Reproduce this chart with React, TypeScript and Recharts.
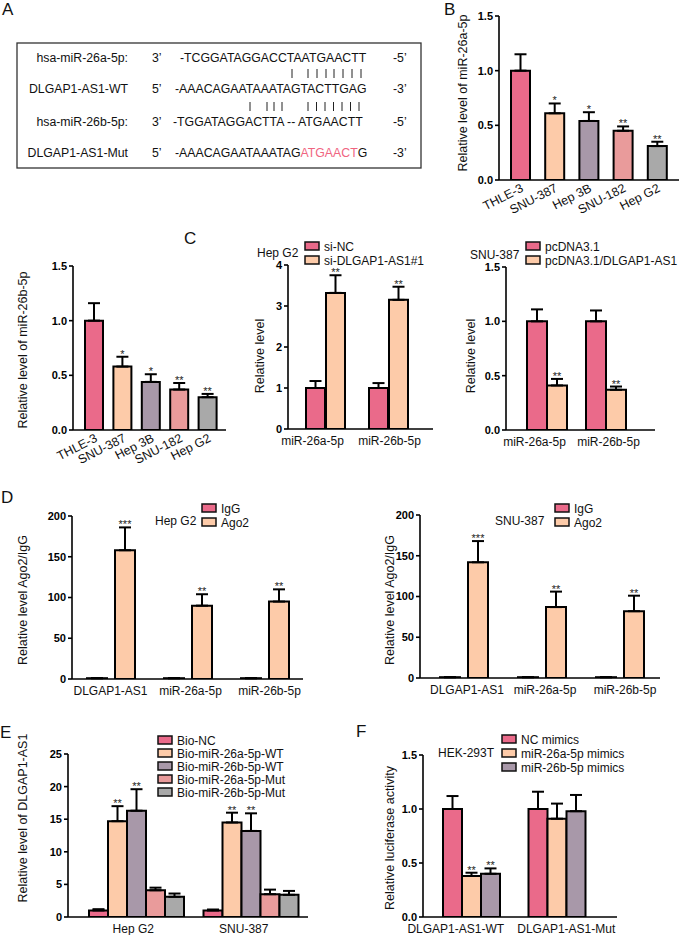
import React from 'react';
import { BarChart, Bar, XAxis, YAxis, ErrorBar, LabelList, Cell } from 'recharts';

const FONT = '"Liberation Sans", Arial, Helvetica, sans-serif';
const PINK = '#EA6A8A';
const PEACH = '#FDCBA9';
const MAUVE = '#A898A9';
const SALMON = '#E99B9B';
const GRAY = '#A9A9A9';

// ---------- Panel B: miR-26a-5p in cell lines ----------
const cellLines = ['THLE-3', 'SNU-387', 'Hep 3B', 'SNU-182', 'Hep G2'];
const b26aValues = [1.0, 0.61, 0.54, 0.45, 0.31];
const b26aErrors = [0.15, 0.09, 0.08, 0.04, 0.04];
const b26aStars = ['', '*', '*', '**', '**'];

// ---------- miR-26b-5p in cell lines ----------
const b26bValues = [1.0, 0.58, 0.44, 0.37, 0.3];
const b26bErrors = [0.16, 0.09, 0.07, 0.06, 0.03];
const b26bStars = ['', '*', '*', '**', '**'];

// ---------- Panel C ----------
const mirCats = ['miR-26a-5p', 'miR-26b-5p'];
const siNCValues = [1.0, 1.0];
const siNCErrors = [0.17, 0.12];
const siDLValues = [3.32, 3.15];
const siDLErrors = [0.43, 0.32];
const siDLStars = ['**', '**'];
const pcValues = [1.0, 1.0];
const pcErrors = [0.11, 0.1];
const pcDLValues = [0.41, 0.37];
const pcDLErrors = [0.06, 0.03];
const pcDLStars = ['**', '**'];

// ---------- Panel D ----------
const ripCats = ['DLGAP1-AS1', 'miR-26a-5p', 'miR-26b-5p'];
const igGValues = [1, 1, 1];
const zeroErr3 = [0, 0, 0];
const hepAgoValues = [158, 90, 95];
const hepAgoErrors = [28, 14, 15];
const snuAgoValues = [142, 87, 82];
const snuAgoErrors = [26, 19, 19];
const agoStars = ['***', '**', '**'];

// ---------- Panel E ----------
const pullCats = ['Hep G2', 'SNU-387'];
const bioNCValues = [1.0, 1.0];
const bioNCErrors = [0.2, 0.15];
const bio26aWTValues = [14.7, 14.5];
const bio26aWTErrors = [2.3, 1.5];
const bio26bWTValues = [16.3, 13.2];
const bio26bWTErrors = [3.3, 2.7];
const bio26aMutValues = [4.1, 3.5];
const bio26aMutErrors = [0.4, 0.7];
const bio26bMutValues = [3.1, 3.4];
const bio26bMutErrors = [0.5, 0.6];
const wtStars = ['**', '**'];

// ---------- Panel F ----------
const lucCats = ['DLGAP1-AS1-WT', 'DLGAP1-AS1-Mut'];
const ncMimValues = [1.0, 1.0];
const ncMimErrors = [0.12, 0.16];
const m26aValues = [0.38, 0.91];
const m26aErrors = [0.03, 0.14];
const m26bValues = [0.4, 0.98];
const m26bErrors = [0.05, 0.15];
const mimStars = ['**', ''];

const none2 = ['', ''];
const none3 = ['', '', ''];

type SeriesDef = {
  name: string;
  values: number[];
  errors: number[];
  stars: string[];
  color: string;
  colors?: string[];
};

function buildRows(cats: string[], series: SeriesDef[]) {
  return cats.map((c, i) => {
    const row: any = { cat: c };
    series.forEach((s, k) => {
      row['v' + k] = s.values[i];
      row['e' + k] = [0, s.errors[i]];
      row['s' + k] = s.stars[i];
    });
    return row;
  });
}

const starContent = (errs: number[], stars: string[], ppu: number) => (props: any) => {
  const { x, y, width, index } = props;
  const s = stars[index];
  if (!s) return null;
  const ty = Number(y) - errs[index] * ppu + 1;
  return (
    <text
      x={Number(x) + Number(width) / 2}
      y={ty}
      textAnchor="middle"
      fontSize={11}
      fill="#222"
      fontFamily={FONT}
    >
      {s}
    </text>
  );
};

const makeHTick = (dx: number[]) => (props: any) => (
  <text
    x={props.x + (dx[props.index] || 0)}
    y={props.y + 16}
    textAnchor="middle"
    fontSize={12}
    fontFamily={FONT}
    fill="#111"
  >
    {props.payload.value}
  </text>
);

const RTick = (props: any) => (
  <g transform={`translate(${props.x + 2},${props.y + 7})`}>
    <text
      textAnchor="end"
      transform="rotate(-27)"
      dy="0.35em"
      fontSize={12.5}
      fontFamily={FONT}
      fill="#111"
    >
      {props.payload.value}
    </text>
  </g>
);

interface PanelProps {
  x0: number;
  x1: number;
  yTop: number;
  yBot: number;
  cats: string[];
  series: SeriesDef[];
  max: number;
  ticks: number[];
  fmt: (v: number) => string;
  barSize: number;
  barGap: number;
  padL: number;
  padR: number;
  rotate?: boolean;
  labelDx?: number[];
}

function Panel(p: PanelProps) {
  const ML = 50;
  const MT = 40;
  const MR = 20;
  const MB = 70;
  const w = p.x1 - p.x0 + ML + MR;
  const h = p.yBot - p.yTop + MT + MB;
  const ppu = (p.yBot - p.yTop) / p.max;
  const data = buildRows(p.cats, p.series);
  const HT = makeHTick(p.labelDx || []);
  return (
    <div style={{ position: 'absolute', left: p.x0 - ML, top: p.yTop - MT, width: w, height: h }}>
      <BarChart
        width={w}
        height={h}
        data={data}
        margin={{ top: MT, right: MR, bottom: 0, left: 0 }}
        barGap={p.barGap}
        barCategoryGap={0}
      >
        <XAxis
          dataKey="cat"
          height={MB}
          axisLine={{ stroke: '#000', strokeWidth: 1.6 }}
          tickLine={false}
          tickSize={0}
          tickMargin={0}
          interval={0}
          padding={{ left: p.padL, right: p.padR }}
          tick={p.rotate ? RTick : HT}
        />
        <YAxis
          width={ML}
          type="number"
          domain={[0, p.max]}
          ticks={p.ticks}
          allowDataOverflow
          interval={0}
          tickFormatter={p.fmt}
          axisLine={{ stroke: '#000', strokeWidth: 1.6 }}
          tickLine={{ stroke: '#000', strokeWidth: 1.6 }}
          tickSize={4}
          tickMargin={2}
          tick={{ fontSize: 11, fontWeight: 700, fill: '#000', fontFamily: FONT }}
        />
        {p.series.map((s, k) => (
          <Bar
            key={k}
            dataKey={'v' + k}
            barSize={p.barSize}
            fill={s.color}
            stroke="#000"
            strokeWidth={2}
            isAnimationActive={false}
          >
            {s.colors ? data.map((_, i) => <Cell key={i} fill={s.colors![i]} />) : null}
            <ErrorBar dataKey={'e' + k} direction="y" width={6} stroke="#000" strokeWidth={2} />
            <LabelList dataKey={'s' + k} content={starContent(s.errors, s.stars, ppu)} />
          </Bar>
        ))}
      </BarChart>
    </div>
  );
}

const f1 = (v: number) => v.toFixed(1);
const f0 = (v: number) => String(v);

function Legend({ x, y0, step, series }: { x: number; y0: number; step: number; series: SeriesDef[] }) {
  return (
    <g>
      {series.map((s, i) => (
        <g key={i}>
          <rect x={x} y={y0 + i * step - 4} width={14} height={8} fill={s.color} stroke="#111" strokeWidth={1.5} />
          <text x={x + 19} y={y0 + i * step + 4.5} fontSize={12} fontFamily={FONT} fill="#111">
            {s.name}
          </text>
        </g>
      ))}
    </g>
  );
}

function YTitle({ x, y, text }: { x: number; y: number; text: string }) {
  return (
    <text
      x={x}
      y={y}
      transform={`rotate(-90 ${x} ${y})`}
      textAnchor="middle"
      dy="0.35em"
      fontSize={12.5}
      fontFamily={FONT}
      fill="#111"
    >
      {text}
    </text>
  );
}

const lineColors = [PINK, PEACH, MAUVE, SALMON, GRAY];

export default function App() {
  const bSeries: SeriesDef[] = [
    { name: 'miR-26a-5p', values: b26aValues, errors: b26aErrors, stars: b26aStars, color: PINK, colors: lineColors },
  ];
  const gSeries: SeriesDef[] = [
    { name: 'miR-26b-5p', values: b26bValues, errors: b26bErrors, stars: b26bStars, color: PINK, colors: lineColors },
  ];
  const cLSeries: SeriesDef[] = [
    { name: 'si-NC', values: siNCValues, errors: siNCErrors, stars: none2, color: PINK },
    { name: 'si-DLGAP1-AS1#1', values: siDLValues, errors: siDLErrors, stars: siDLStars, color: PEACH },
  ];
  const cRSeries: SeriesDef[] = [
    { name: 'pcDNA3.1', values: pcValues, errors: pcErrors, stars: none2, color: PINK },
    { name: 'pcDNA3.1/DLGAP1-AS1', values: pcDLValues, errors: pcDLErrors, stars: pcDLStars, color: PEACH },
  ];
  const dLSeries: SeriesDef[] = [
    { name: 'IgG', values: igGValues, errors: zeroErr3, stars: none3, color: PINK },
    { name: 'Ago2', values: hepAgoValues, errors: hepAgoErrors, stars: agoStars, color: PEACH },
  ];
  const dRSeries: SeriesDef[] = [
    { name: 'IgG', values: igGValues, errors: zeroErr3, stars: none3, color: PINK },
    { name: 'Ago2', values: snuAgoValues, errors: snuAgoErrors, stars: agoStars, color: PEACH },
  ];
  const eSeries: SeriesDef[] = [
    { name: 'Bio-NC', values: bioNCValues, errors: bioNCErrors, stars: none2, color: PINK },
    { name: 'Bio-miR-26a-5p-WT', values: bio26aWTValues, errors: bio26aWTErrors, stars: wtStars, color: PEACH },
    { name: 'Bio-miR-26b-5p-WT', values: bio26bWTValues, errors: bio26bWTErrors, stars: wtStars, color: MAUVE },
    { name: 'Bio-miR-26a-5p-Mut', values: bio26aMutValues, errors: bio26aMutErrors, stars: none2, color: SALMON },
    { name: 'Bio-miR-26b-5p-Mut', values: bio26bMutValues, errors: bio26bMutErrors, stars: none2, color: GRAY },
  ];
  const fSeries: SeriesDef[] = [
    { name: 'NC mimics', values: ncMimValues, errors: ncMimErrors, stars: none2, color: PINK },
    { name: 'miR-26a-5p mimics', values: m26aValues, errors: m26aErrors, stars: mimStars, color: PEACH },
    { name: 'miR-26b-5p mimics', values: m26bValues, errors: m26bErrors, stars: mimStars, color: MAUVE },
  ];

  const seqFont = 12.3;
  const pinkText = '#F0657F';
  const pair1 = [292, 308, 317, 326, 334, 343, 352, 361];
  const pair2 = [250, 267, 274, 282, 308, 316.5, 325, 333.5, 342, 350.5, 359];

  return (
    <div
      style={{
        position: 'absolute',
        left: 0,
        top: 0,
        width: 685,
        height: 935,
        overflow: 'hidden',
        background: '#fff',
        fontFamily: FONT,
      }}
    >
      <Panel x0={499} x1={679} yTop={16} yBot={180} cats={cellLines} series={bSeries} max={1.5}
        ticks={[0, 0.5, 1, 1.5]} fmt={f1} barSize={19} barGap={0} padL={4} padR={5} rotate />
      <Panel x0={73} x1={226} yTop={266} yBot={430} cats={cellLines} series={gSeries} max={1.5}
        ticks={[0, 0.5, 1, 1.5]} fmt={f1} barSize={18} barGap={0} padL={7} padR={4} rotate />
      <Panel x0={288} x1={433} yTop={265} yBot={429} cats={mirCats} series={cLSeries} max={4}
        ticks={[0, 1, 2, 3, 4]} fmt={f0} barSize={19} barGap={1} padL={6} padR={13} labelDx={[-13, 1]} />
      <Panel x0={506} x1={655} yTop={267} yBot={430} cats={mirCats} series={cRSeries} max={1.5}
        ticks={[0, 0.5, 1, 1.5]} fmt={f1} barSize={20} barGap={0} padL={11} padR={20} labelDx={[-12, 3]} />
      <Panel x0={72} x1={303} yTop={516} yBot={679} cats={ripCats} series={dLSeries} max={200}
        ticks={[0, 50, 100, 150, 200]} fmt={f0} barSize={20} barGap={8} padL={0} padR={0} labelDx={[0, 3, 5]} />
      <Panel x0={420} x1={660} yTop={515} yBot={678} cats={ripCats} series={dRSeries} max={200}
        ticks={[0, 50, 100, 150, 200]} fmt={f0} barSize={20} barGap={8} padL={5} padR={1} labelDx={[3, 3, 5]} />
      <Panel x0={68} x1={308} yTop={754} yBot={917} cats={pullCats} series={eSeries} max={25}
        ticks={[0, 5, 10, 15, 20, 25]} fmt={f0} barSize={19} barGap={0} padL={11} padR={0} labelDx={[-3, -7]} />
      <Panel x0={423} x1={617} yTop={755} yBot={917} cats={lucCats} series={fSeries} max={1.5}
        ticks={[0, 0.5, 1, 1.5]} fmt={f1} barSize={19} barGap={0} padL={6} padR={17} labelDx={[-16, 9]} />

      <svg
        width={685}
        height={935}
        style={{ position: 'absolute', left: 0, top: 0, pointerEvents: 'none' }}
      >
        {/* Panel letters */}
        <g fontSize={17} fontFamily={FONT} fill="#111">
          <text x={2} y={15}>A</text>
          <text x={444} y={15}>B</text>
          <text x={184} y={244}>C</text>
          <text x={1} y={503}>D</text>
          <text x={0} y={738}>E</text>
          <text x={356} y={737}>F</text>
        </g>

        {/* Panel A */}
        <rect x={17} y={43} width={404} height={125} fill="none" stroke="#333" strokeWidth={1.3} />
        <g fontSize={seqFont} fontFamily={FONT} fill="#111">
          <text x={128} y={62} textAnchor="end">hsa-miR-26a-5p:</text>
          <text x={152} y={62}>3’</text>
          <text x={180} y={62}>-TCGGATAGGACCTAATGAACTT</text>
          <text x={393} y={62}>-5’</text>

          <text x={128} y={93} textAnchor="end">DLGAP1-AS1-WT</text>
          <text x={152} y={93}>5’</text>
          <text x={175} y={93}>-AAACAGAATAAATAGTACTTGAG</text>
          <text x={393} y={93}>-3’</text>

          <text x={128} y={126} textAnchor="end">hsa-miR-26b-5p:</text>
          <text x={152} y={126}>3’</text>
          <text x={173} y={126}>-TGGATAGGACTTA -- ATGAACTT</text>
          <text x={393} y={126}>-5’</text>

          <text x={128} y={157} textAnchor="end">DLGAP1-AS1-Mut</text>
          <text x={152} y={157}>5’</text>
          <text x={175} y={157}>
            -AAACAGAATAAATAG<tspan fill={pinkText}>ATGAACT</tspan>G
          </text>
          <text x={393} y={157}>-3’</text>
        </g>
        <g stroke="#222" strokeWidth={1}>
          {pair1.map((x, i) => (
            <line key={'t1' + i} x1={x} x2={x} y1={69} y2={78} />
          ))}
          {pair2.map((x, i) => (
            <line key={'t2' + i} x1={x} x2={x} y1={102} y2={111} />
          ))}
        </g>

        {/* Y titles */}
        <YTitle x={463} y={93} text="Relative level of miR-26a-5p" />
        <YTitle x={23} y={350} text="Relative level of miR-26b-5p" />
        <YTitle x={260} y={356} text="Relative level" />
        <YTitle x={471} y={356} text="Relative level" />
        <YTitle x={23} y={600} text="Relative level Ago2/IgG" />
        <YTitle x={390} y={600} text="Relative level Ago2/IgG" />
        <YTitle x={23} y={818} text="Relative level of DLGAP1-AS1" />
        <YTitle x={390} y={838} text="Relative luciferase activity" />

        {/* Legends */}
        <g fontSize={12} fontFamily={FONT} fill="#111">
          <text x={257} y={257}>Hep G2</text>
          <text x={470} y={259}>SNU-387</text>
          <text x={155} y={525}>Hep G2</text>
          <text x={495} y={525}>SNU-387</text>
          <text x={438} y={757}>HEK-293T</text>
        </g>
        <Legend x={305} y0={246} step={14} series={cLSeries} />
        <Legend x={526} y0={246} step={14} series={cRSeries} />
        <Legend x={202} y0={508} step={14} series={dLSeries} />
        <Legend x={555} y0={508} step={14} series={dRSeries} />
        <Legend x={158} y0={740} step={13} series={eSeries} />
        <Legend x={502} y0={739} step={14} series={fSeries} />
      </svg>
    </div>
  );
}
